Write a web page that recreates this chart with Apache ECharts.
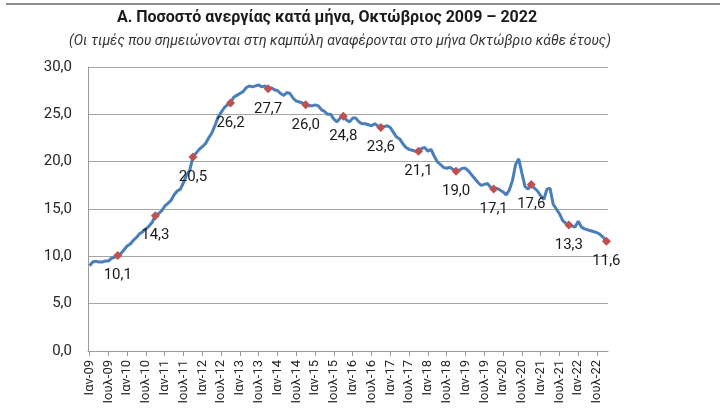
<!DOCTYPE html>
<html>
<head>
<meta charset="utf-8">
<script src="https://cdn.jsdelivr.net/npm/echarts@6/dist/echarts.min.js"></script>
<style>
html,body{margin:0;padding:0;background:#fff;}
#chart{width:720px;height:416px;}
</style>
</head>
<body>
<div id="chart"></div>
<script>
// Monthly unemployment rate, Jan 2009 - Oct 2022
var monthNames = ['Ιαν','Φεβ','Μαρ','Απρ','Μαϊ','Ιουν','Ιουλ','Αυγ','Σεπ','Οκτ','Νοε','Δεκ'];
var startYear = 2009;
var values2009 = [9.0, 9.4, 9.5, 9.4, 9.4, 9.5, 9.5, 9.8, 9.9, 10.1, 10.3, 10.7];
var values2010 = [11.1, 11.3, 11.7, 12.0, 12.4, 12.6, 12.9, 13.2, 13.6, 14.3, 14.5, 14.8];
var values2011 = [15.3, 15.6, 15.9, 16.5, 16.9, 17.1, 17.8, 18.6, 19.1, 20.5, 20.9, 21.3];
var values2012 = [21.6, 21.9, 22.5, 23.0, 23.8, 24.7, 25.2, 25.7, 26.0, 26.2, 26.8, 27.0];
var values2013 = [27.2, 27.4, 27.8, 28.0, 27.9, 28.0, 28.1, 27.9, 28.0, 27.7, 27.8, 27.6];
var values2014 = [27.5, 27.2, 27.0, 27.3, 27.2, 26.7, 26.4, 26.3, 26.2, 26.0, 25.9, 25.9];
var values2015 = [26.0, 25.9, 25.5, 25.3, 25.0, 25.0, 24.5, 24.2, 24.6, 24.8, 24.4, 24.2];
var values2016 = [24.6, 24.6, 24.2, 24.0, 24.0, 23.9, 23.8, 24.0, 23.8, 23.6, 23.7, 23.8];
var values2017 = [23.6, 23.1, 22.6, 22.4, 21.9, 21.5, 21.3, 21.2, 21.1, 21.1, 21.4, 21.5];
var values2018 = [21.1, 21.3, 20.6, 20.0, 19.7, 19.4, 19.3, 19.4, 19.2, 19.0, 19.1, 19.3];
var values2019 = [19.3, 19.0, 18.6, 18.2, 17.8, 17.5, 17.6, 17.7, 17.3, 17.1, 17.2, 17.0];
var values2020 = [16.8, 16.5, 17.0, 18.0, 19.7, 20.3, 18.8, 17.4, 17.1, 17.6, 17.2, 16.9];
var values2021 = [16.4, 16.0, 17.1, 17.2, 15.5, 15.0, 14.5, 13.8, 13.5, 13.3, 13.2, 13.1];
var values2022 = [13.7, 13.1, 12.9, 12.8, 12.7, 12.6, 12.5, 12.3, 12.0, 11.6];
var yTicks = [0, 5, 10, 15, 20, 25, 30];
// label shifts [x, y] for October annotations by year
var octLabelShift = {2009: [5, 0], 2010: [5, 0], 2011: [14, -1], 2012: [1, -6], 2013: [1, 1], 2014: [-2, -7],
  2015: [-7, 0], 2016: [-1, -5], 2017: [0, -1], 2018: [1, 0], 2019: [2, 0], 2020: [1, 2], 2021: [0, 0], 2022: [0, 0]};

var yearly = [values2009, values2010, values2011, values2012, values2013, values2014, values2015,
  values2016, values2017, values2018, values2019, values2020, values2021, values2022];

var categories = [];
var seriesData = [];
yearly.forEach(function (arr, yi) {
  var year = startYear + yi;
  arr.forEach(function (v, m) {
    categories.push(monthNames[m] + '-' + String(year).slice(2));
    if (m === 9) {
      seriesData.push({
        value: v,
        symbol: 'diamond',
        symbolSize: 9,
        label: {show: true, offset: octLabelShift[year] || [0, 0]}
      });
    } else {
      seriesData.push({value: v, symbol: 'none', symbolSize: 0});
    }
  });
});

var fmt = function (v) { return Number(v).toFixed(1).replace('.', ','); };
var FONT = 'Roboto, "Noto Sans", sans-serif';

var chart = echarts.init(document.getElementById('chart'), null, {renderer: 'canvas'});
chart.setOption({
  animation: false,
  backgroundColor: '#ffffff',
  graphic: [
    {type: 'line', shape: {x1: 6, y1: 4, x2: 720, y2: 4}, style: {stroke: '#8c8c8c', lineWidth: 2}},
    {type: 'text', x: 327, y: 10, style: {
      text: 'Α. Ποσοστό ανεργίας κατά μήνα, Οκτώβριος 2009 – 2022', textAlign: 'center',
      font: 'bold 16px Roboto, "Noto Sans", sans-serif', fill: '#1a1a1a'}},
    {type: 'text', x: 340, y: 34, style: {
      text: '(Οι τιμές που σημειώνονται στη καμπύλη αναφέρονται στο μήνα Οκτώβριο κάθε έτους)', textAlign: 'center',
      font: 'italic 14px Roboto, "Noto Sans", sans-serif', fill: '#333333'}}
  ],
  grid: {left: 88, right: 112, top: 67, bottom: 65, containLabel: false},
  xAxis: {
    type: 'category',
    data: categories,
    boundaryGap: true,
    axisLine: {show: true, lineStyle: {color: '#9a9a9a', width: 1}},
    axisTick: {show: true, alignWithLabel: true, interval: 5, length: 5, lineStyle: {color: '#9a9a9a'}},
    axisLabel: {interval: 5, rotate: 90, margin: 9, fontFamily: FONT, fontSize: 13, color: '#262626'},
    splitLine: {show: false}
  },
  yAxis: {
    type: 'value',
    min: 0, max: 30, interval: 5,
    axisLine: {show: true, lineStyle: {color: '#9a9a9a'}},
    axisTick: {show: false},
    axisLabel: {formatter: fmt, fontFamily: FONT, fontSize: 15, color: '#262626', margin: 16},
    splitLine: {show: true, lineStyle: {color: '#a6a6a6', width: 1}}
  },
  series: [{
    type: 'line',
    data: seriesData,
    showSymbol: true,
    showAllSymbol: true,
    smooth: false,
    lineStyle: {color: '#4A7EBB', width: 3},
    itemStyle: {color: '#C0504D'},
    label: {show: false, position: 'bottom', distance: 8, formatter: function (p) { return fmt(p.value); },
      fontFamily: FONT, fontSize: 15, color: '#1a1a1a'},
    labelLayout: {hideOverlap: false},
    emphasis: {disabled: true},
    z: 3
  }]
});
</script>
</body>
</html>
